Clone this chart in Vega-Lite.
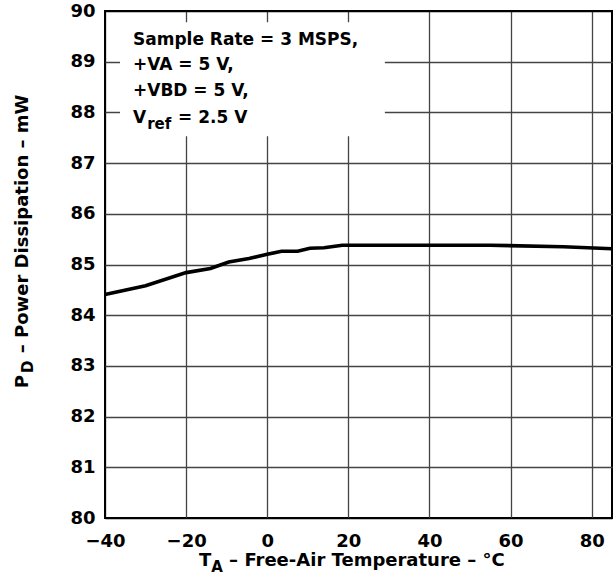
{
  "$schema": "https://vega.github.io/schema/vega-lite/v6.json",
  "width": 507,
  "height": 507,
  "autosize": {"type": "none"},
  "padding": {"left": 105, "top": 11, "right": 1, "bottom": 64},
  "background": "white",
  "config": {
    "view": {"stroke": "black", "strokeWidth": 2},
    "font": "DejaVu Sans",
    "axis": {
      "labelFont": "DejaVu Sans",
      "labelFontWeight": "bold",
      "labelFontSize": 18,
      "labelColor": "black",
      "domain": false,
      "ticks": false,
      "grid": true,
      "gridColor": {"condition": {"test": "datum.value == -40 || datum.value == 80 && false", "value": "black"}, "value": "#444"},
      "gridWidth": 1.3,
      "gridOpacity": 1,
      "title": null
    }
  },
  "layer": [
    {
      "data": {"values": [
        {"t": -40, "p": 84.41}, {"t": -30, "p": 84.58}, {"t": -20, "p": 84.84},
        {"t": -14, "p": 84.92}, {"t": -9.5, "p": 85.05}, {"t": -4.5, "p": 85.12},
        {"t": 0, "p": 85.2}, {"t": 3.5, "p": 85.26}, {"t": 7.5, "p": 85.26},
        {"t": 10.5, "p": 85.32}, {"t": 14, "p": 85.33}, {"t": 18.5, "p": 85.38},
        {"t": 55, "p": 85.38}, {"t": 73, "p": 85.35}, {"t": 85, "p": 85.31}
      ]},
      "mark": {"type": "line", "color": "black", "strokeWidth": 3.6},
      "encoding": {
        "x": {"field": "t", "type": "quantitative", "scale": {"domain": [-40, 85], "nice": false, "zero": false},
              "axis": {"values": [-40, -20, 0, 20, 40, 60, 80], "labelPadding": 14, "labelFlush": false,
                       "gridColor": {"condition": {"test": "datum.value == -40", "value": "black"}, "value": "#444"}}},
        "y": {"field": "p", "type": "quantitative", "scale": {"domain": [80, 90], "nice": false, "zero": false},
              "axis": {"values": [80, 81, 82, 83, 84, 85, 86, 87, 88, 89, 90], "labelPadding": 10, "labelFlush": false,
                       "gridColor": {"condition": {"test": "datum.value == 80 || datum.value == 90", "value": "black"}, "value": "#444"}}}
      }
    },
    {
      "data": {"values": [{"x1": -36.3, "x2": 29, "y1": 87.53, "y2": 89.78}]},
      "mark": {"type": "rect", "fill": "white"},
      "encoding": {
        "x": {"field": "x1", "type": "quantitative"},
        "x2": {"field": "x2"},
        "y": {"field": "y1", "type": "quantitative"},
        "y2": {"field": "y2"}
      }
    },
    {
      "data": {"values": [
        {"x": -33.1, "y": 89.33, "s": "Sample Rate = 3 MSPS,"},
        {"x": -33.1, "y": 88.83, "s": "+VA = 5 V,"},
        {"x": -33.1, "y": 88.32, "s": "+VBD = 5 V,"},
        {"x": -33.1, "y": 87.8, "s": "V"},
        {"x": -22.0, "y": 87.8, "s": "= 2.5 V"}
      ]},
      "mark": {"type": "text", "font": "DejaVu Sans", "fontWeight": "bold", "fontSize": 17, "align": "left", "baseline": "alphabetic", "color": "black"},
      "encoding": {
        "x": {"field": "x", "type": "quantitative"},
        "y": {"field": "y", "type": "quantitative"},
        "text": {"field": "s"}
      }
    },
    {
      "data": {"values": [{"x": -29.6, "y": 87.67, "s": "ref"}]},
      "mark": {"type": "text", "font": "DejaVu Sans", "fontWeight": "bold", "fontSize": 15, "align": "left", "baseline": "alphabetic", "color": "black"},
      "encoding": {
        "x": {"field": "x", "type": "quantitative"},
        "y": {"field": "y", "type": "quantitative"},
        "text": {"field": "s"}
      }
    },
    {
      "data": {"values": [
        {"x": -16.8, "y": 79.05, "s": "T"},
        {"x": -9.4, "y": 79.05, "s": "– Free-Air Temperature – °C"}
      ]},
      "mark": {"type": "text", "font": "DejaVu Sans", "fontWeight": "bold", "fontSize": 18, "align": "left", "baseline": "alphabetic", "color": "black"},
      "encoding": {
        "x": {"field": "x", "type": "quantitative"},
        "y": {"field": "y", "type": "quantitative"},
        "text": {"field": "s"}
      }
    },
    {
      "data": {"values": [{"x": -13.8, "y": 78.93, "s": "A"}]},
      "mark": {"type": "text", "font": "DejaVu Sans", "fontWeight": "bold", "fontSize": 15, "align": "left", "baseline": "alphabetic", "color": "black"},
      "encoding": {
        "x": {"field": "x", "type": "quantitative"},
        "y": {"field": "y", "type": "quantitative"},
        "text": {"field": "s"}
      }
    },
    {
      "data": {"values": [
        {"x": -58.98, "y": 82.56, "s": "P"},
        {"x": -58.98, "y": 83.25, "s": "– Power Dissipation – mW"}
      ]},
      "mark": {"type": "text", "font": "DejaVu Sans", "fontWeight": "bold", "fontSize": 18, "align": "left", "baseline": "alphabetic", "angle": 270, "color": "black"},
      "encoding": {
        "x": {"field": "x", "type": "quantitative"},
        "y": {"field": "y", "type": "quantitative"},
        "text": {"field": "s"}
      }
    },
    {
      "data": {"values": [{"x": -57.75, "y": 82.86, "s": "D"}]},
      "mark": {"type": "text", "font": "DejaVu Sans", "fontWeight": "bold", "fontSize": 15, "align": "left", "baseline": "alphabetic", "angle": 270, "color": "black"},
      "encoding": {
        "x": {"field": "x", "type": "quantitative"},
        "y": {"field": "y", "type": "quantitative"},
        "text": {"field": "s"}
      }
    }
  ]
}
